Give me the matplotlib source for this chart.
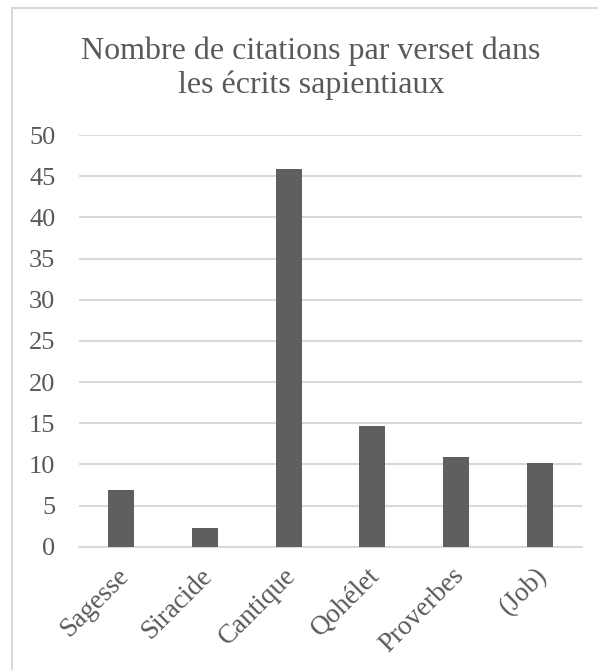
import matplotlib
matplotlib.use("Agg")
import matplotlib.pyplot as plt
import matplotlib.transforms as mtransforms
from matplotlib.patches import Rectangle
import numpy as np

livres = ["Sagesse", "Siracide", "Cantique", "Qohélet", "Proverbes", "(Job)"]
citations = [6.9, 2.3, 45.9, 14.7, 10.9, 10.2]
yticks = [0, 5, 10, 15, 20, 25, 30, 35, 40, 45, 50]
titre = "Nombre de citations par verset dans\nles écrits sapientiaux"

TXT = "#595959"
BAR = "#5f5f5f"
GRID = "#d9d9d9"

plt.rcParams["font.family"] = ["Liberation Serif", "DejaVu Serif"]

W, H = 598, 670
fig = plt.figure(figsize=(W / 100, H / 100), dpi=100)
fig.patch.set_facecolor("white")

# chart-area border (Excel style)
fig.patches.append(Rectangle((12 / W, -0.1), 1.2, 1 - 8 / H + 0.1,
                             transform=fig.transFigure, fill=False,
                             edgecolor="#d9d9d9", linewidth=1.5))

ax = fig.add_axes([79 / W, 1 - 546.7 / H, (582 - 79) / W, (546.7 - 135) / H])
x = np.arange(len(livres))
ax.bar(x, citations, width=0.31, color=BAR, zorder=3)
ax.set_xlim(-0.5, len(livres) - 0.5)
ax.set_ylim(0, 50)
ax.set_yticks(yticks)
ax.set_yticklabels([str(v) for v in yticks])
ax.set_xticks(x)
ax.set_xticklabels(livres, rotation=45, ha="right", va="top",
                   rotation_mode="anchor")
ax.tick_params(axis="y", length=0, pad=17, labelsize=19, labelcolor=TXT)
ax.tick_params(axis="x", length=0, pad=12, labelsize=19.5, labelcolor=TXT)
# nudge category labels slightly left, like Excel
shift = mtransforms.ScaledTranslation(-0.05, 0, fig.dpi_scale_trans)
for lab in ax.get_xticklabels():
    lab.set_transform(lab.get_transform() + shift)
ax.grid(axis="y", color=GRID, linewidth=1.5, zorder=0)
for s in ["top", "right", "left"]:
    ax.spines[s].set_visible(False)
ax.spines["bottom"].set_color(GRID)
ax.spines["bottom"].set_linewidth(1.5)

fig.text(311 / W, 1 - 36 / H, titre, ha="center", va="top",
         fontsize=23, color=TXT, linespacing=1.22)

fig.savefig("out.png", dpi=100, facecolor="white")
